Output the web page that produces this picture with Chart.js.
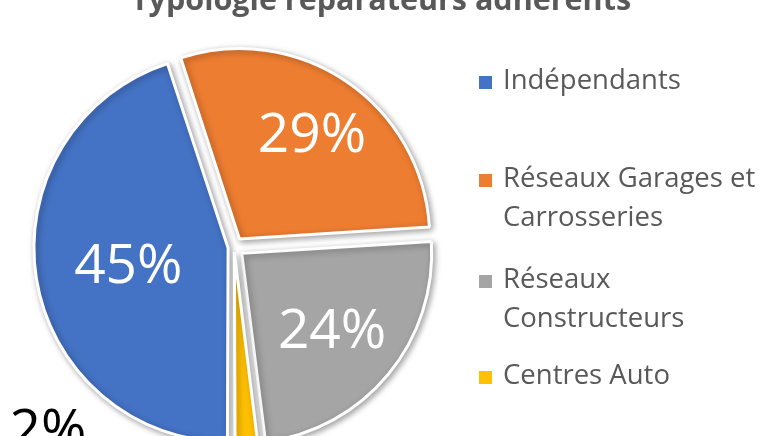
<!DOCTYPE html>
<html>
<head>
<meta charset="utf-8">
<script src="https://cdn.jsdelivr.net/npm/chart.js@4"></script>
<style>
  html, body { margin: 0; padding: 0; background: #fff; overflow: hidden; }
  #wrap { position: relative; width: 759px; height: 436px; overflow: hidden; }
  #pie { position: absolute; left: 0; top: 0; }
  .item { position: absolute; left: 479px; font-family: "Open Sans", sans-serif; font-size: 27.5px;
          line-height: 38.5px; color: #595959; white-space: nowrap; }
  .item i { position: absolute; left: 0; top: 16px; width: 13px; height: 13px; }
  .item span { position: absolute; left: 24px; top: 0; }
</style>
</head>
<body>
<div id="wrap">
  <canvas id="pie" width="759" height="494"></canvas>
  <div id="legend"></div>
</div>
<script>
/* Chart data */
const title = 'Typologie réparateurs adhérents';
const categories = ['Indépendants', 'Réseaux Garages et Carrosseries', 'Réseaux Constructeurs', 'Centres Auto'];
const legendLines = [['Indépendants'], ['Réseaux Garages et', 'Carrosseries'], ['Réseaux', 'Constructeurs'], ['Centres Auto']];
const shares = [45, 29, 24, 2];
const colors = ['#4472C4', '#ED7D31', '#A5A5A5', '#FFC000'];

/* legend (html) */
const legendTops = [60, 158, 259, 355];
const legend = document.getElementById('legend');
legendLines.forEach((lines, i) => {
  const d = document.createElement('div');
  d.className = 'item';
  d.style.top = legendTops[i] + 'px';
  d.innerHTML = '<i style="background:' + colors[i] + '"></i><span>' + lines.join('<br>') + '</span>';
  legend.appendChild(d);
});

/* title drawn above the top edge, like the cropped original */
const titlePlugin = {
  id: 'cutTitle',
  afterDraw(chart) {
    const ctx = chart.ctx;
    ctx.save();
    ctx.font = 'bold 30.5px "Open Sans"';
    ctx.fillStyle = '#595959';
    ctx.textAlign = 'center';
    ctx.textBaseline = 'alphabetic';
    ctx.fillText(title, 381, 10);
    ctx.restore();
  }
};

/* soft shadow under slices */
const shadowPlugin = {
  id: 'sliceShadow',
  beforeDatasetsDraw(chart) {
    const ctx = chart.ctx;
    ctx.save();
    ctx.shadowColor = 'rgba(0,0,0,0.35)';
    ctx.shadowBlur = 6;
    ctx.shadowOffsetX = 2;
    ctx.shadowOffsetY = 2;
  },
  afterDatasetsDraw(chart) {
    chart.ctx.restore();
  }
};

/* percentage labels */
const labelPlugin = {
  id: 'sliceLabels',
  afterDatasetsDraw(chart, args, opts) {
    const ctx = chart.ctx;
    const meta = chart.getDatasetMeta(0);
    const total = shares.reduce((a, b) => a + b, 0);
    ctx.save();
    ctx.font = opts.size + 'px "Open Sans"';
    ctx.textAlign = 'center';
    ctx.textBaseline = 'alphabetic';
    meta.data.forEach((arc, i) => {
      const p = arc.getProps(['x', 'y', 'startAngle', 'endAngle', 'outerRadius'], true);
      let a = (p.startAngle + p.endAngle) / 2;
      if (opts.angle[i] !== null) a = opts.angle[i] * Math.PI / 180 - Math.PI / 2;
      const r = p.outerRadius * opts.dist[i];
      const x = p.x + Math.cos(a) * r;
      const y = p.y + Math.sin(a) * r;
      ctx.fillStyle = opts.color[i];
      ctx.fillText(Math.round(shares[i] / total * 100) + '%', x, y + opts.size * 0.357);
    });
    ctx.restore();
  }
};

new Chart(document.getElementById('pie'), {
  type: 'pie',
  data: {
    labels: categories,
    datasets: [{
      data: shares,
      backgroundColor: colors,
      borderColor: '#ffffff',
      borderWidth: 3,
      offset: [24, 39, 40, 21]
    }]
  },
  options: {
    responsive: false,
    animation: false,
    events: [],
    rotation: 180,
    radius: 190,
    layout: { padding: { left: 0, right: 291, top: 0, bottom: 0 } },
    plugins: {
      legend: { display: false },
      tooltip: { enabled: false },
      sliceLabels: {
        size: 55,
        dist: [0.563, 0.73, 0.67, 1.366],
        angle: [null, null, null, 225.8],
        color: ['#ffffff', '#ffffff', '#ffffff', '#000000']
      }
    }
  },
  plugins: [shadowPlugin, labelPlugin, titlePlugin]
});
</script>
</body>
</html>
